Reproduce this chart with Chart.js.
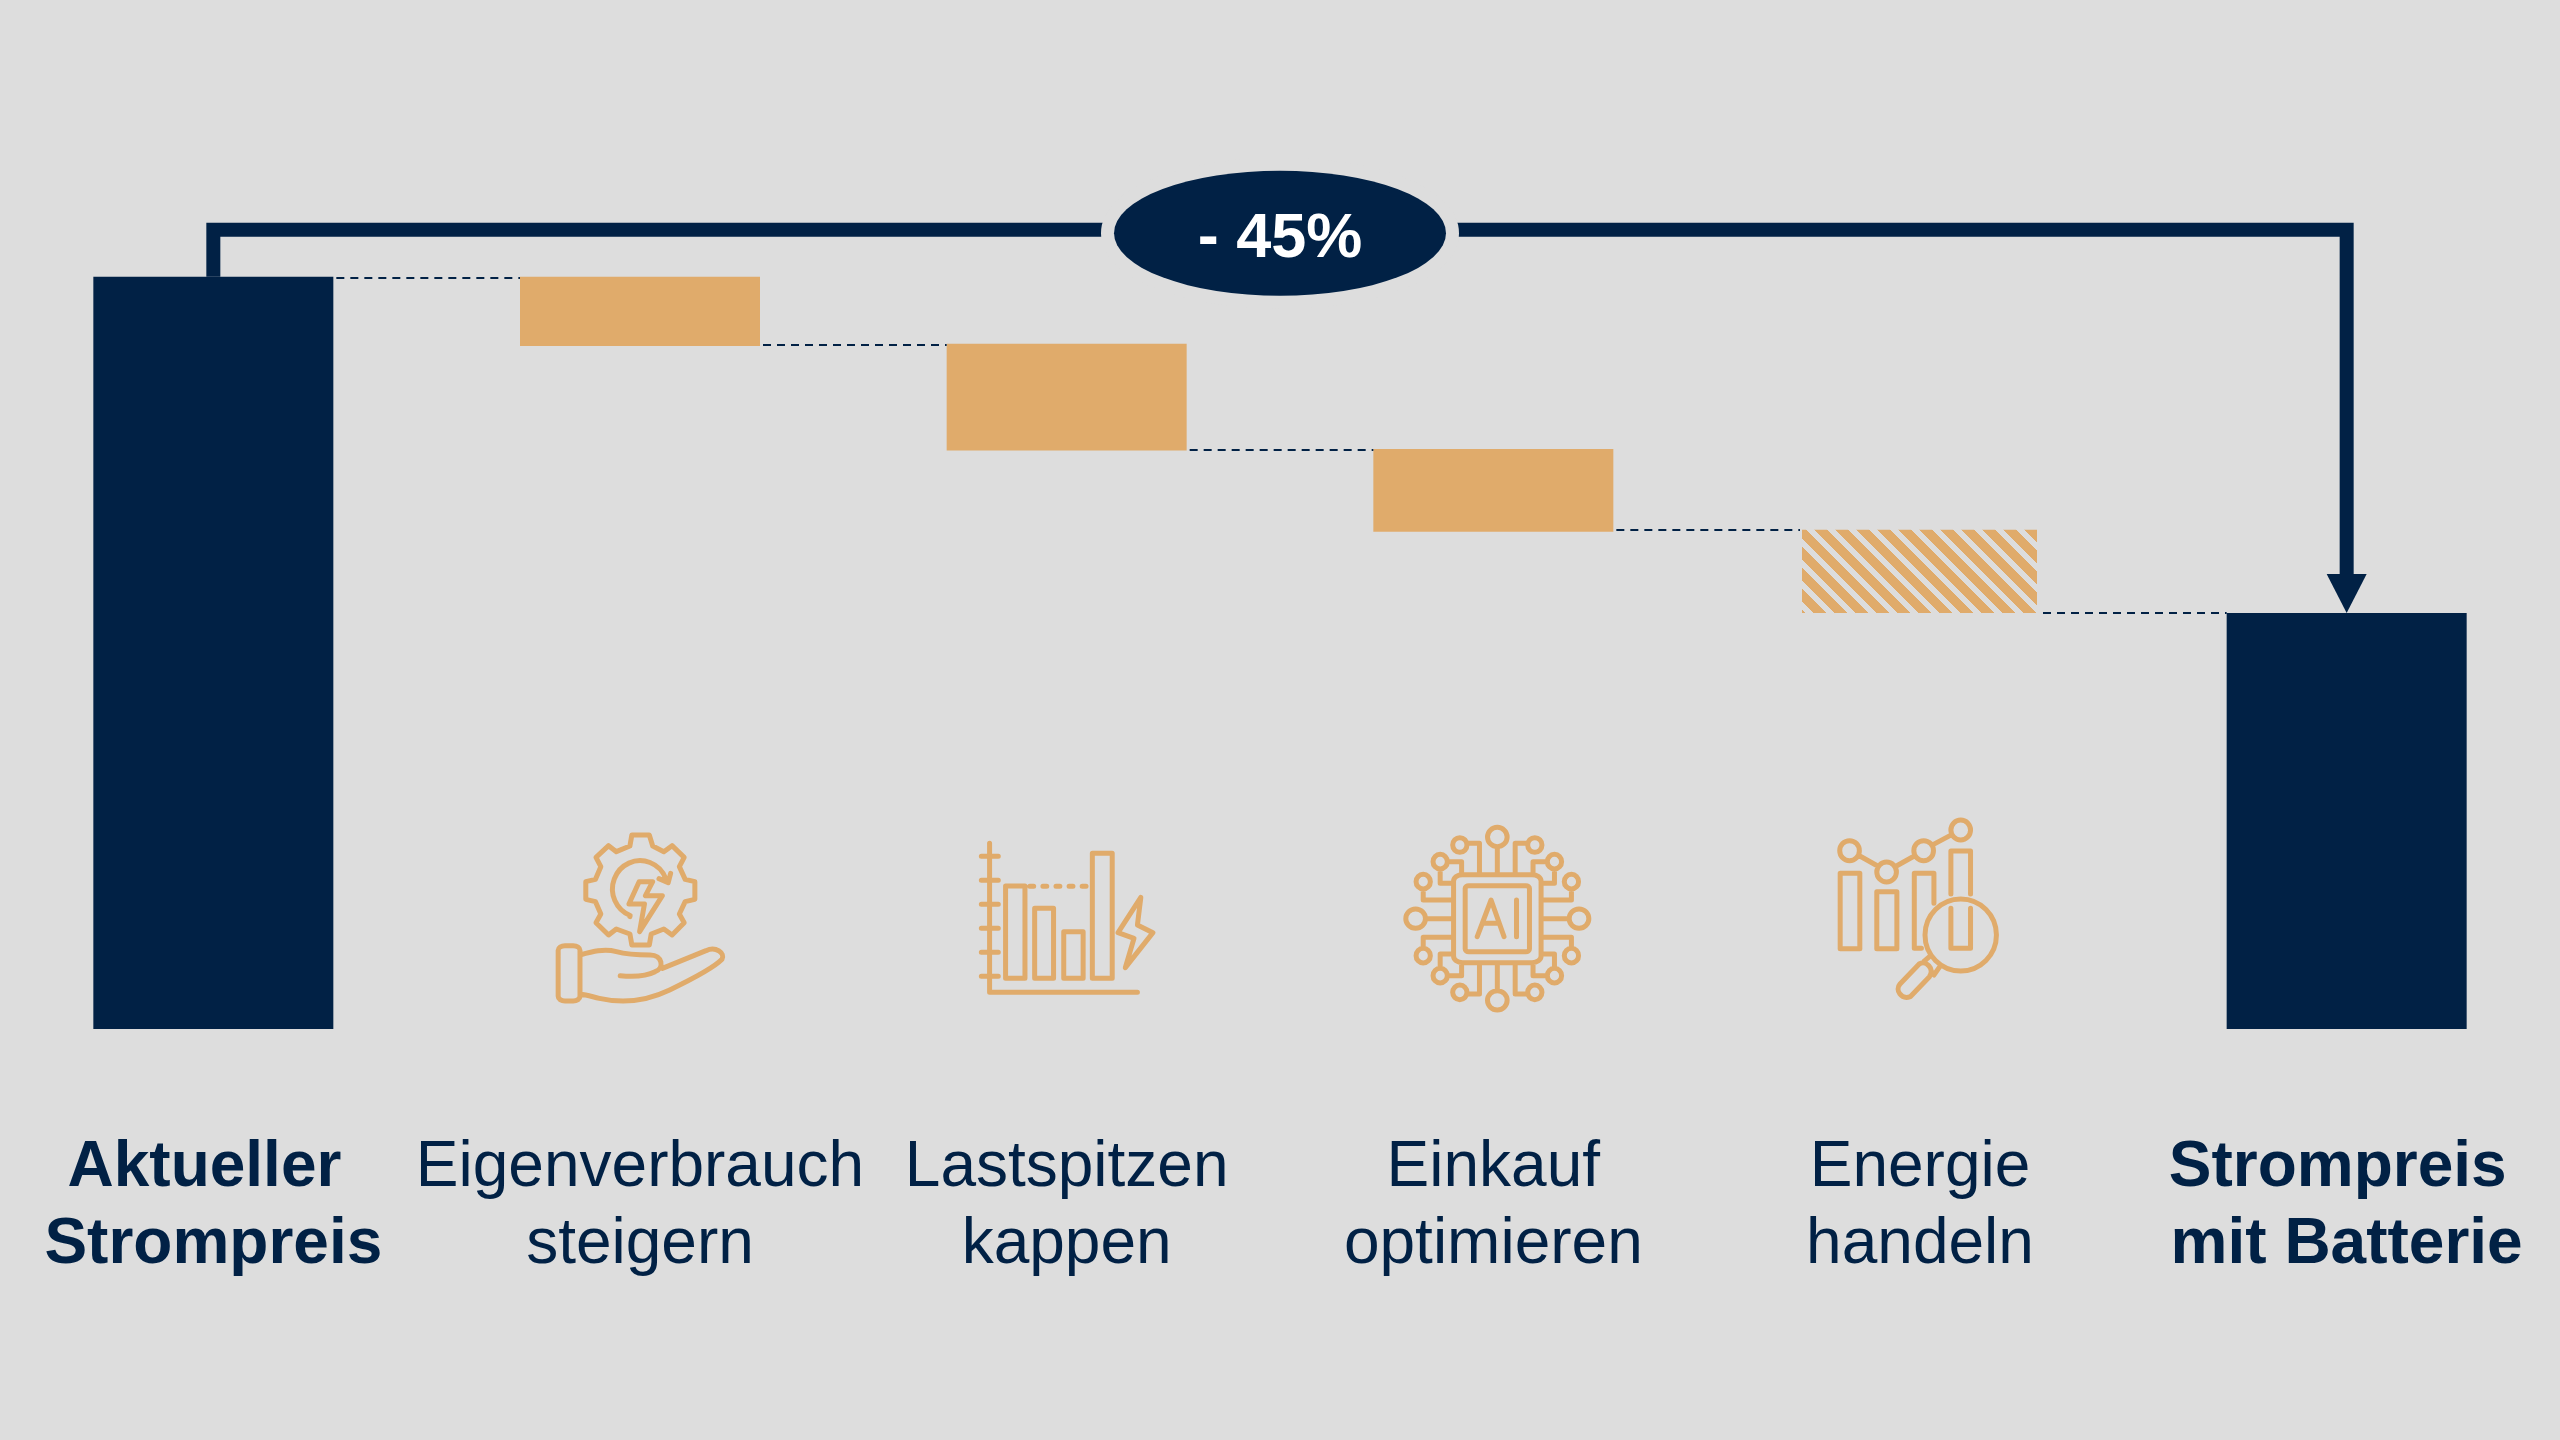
<!DOCTYPE html>
<html lang="de">
<head>
<meta charset="utf-8">
<title>Strompreis mit Batterie</title>
<script src="https://cdn.jsdelivr.net/npm/chart.js@4"></script>
<style>
  html, body { margin: 0; background: #dddddd; }
  canvas { display: block; }
</style>
</head>
<body>
<canvas id="waterfall" width="2560" height="1440"></canvas>
<script>
// Chart data (current price = 100)
const categories = [
  ["Aktueller ", "Strompreis"],
  ["Eigenverbrauch", "steigern"],
  ["Lastspitzen", "kappen"],
  ["Einkauf", "optimieren"],
  ["Energie", "handeln"],
  ["Strompreis ", "mit Batterie"],
];
const barBottoms = [0, 90.8, 76.9, 66.1, 55.3, 0];
const barTops = [100, 100, 91.1, 77.1, 66.4, 55.3];
const connectorLevels = [99.9, 91, 77, 66.3, 55.3];
const boldLabels = [true, false, false, false, false, true];
const savingLabel = "- 45%";
const bracketLevel = 106.25;
const badgeLevel = 105.8;
const yMax = 136.8;

const NAVY = "#012145";
const ORANGE = "#e0ab6b";
const BG = "#dddddd";
const FONT = '"Liberation Sans", Arial, sans-serif';

// The last saving step is not certain yet, so it gets a striped fill
function makeHatch() {
  const tile = document.createElement("canvas");
  tile.width = 21;
  tile.height = 21;
  const t = tile.getContext("2d");
  t.fillStyle = ORANGE;
  for (let y = 0; y < 21; y++) {
    for (let x = 0; x < 21; x++) {
      if (((x - y - 4) % 21 + 21) % 21 < 13) t.fillRect(x, y, 1, 1);
    }
  }
  return tile.getContext("2d").createPattern(tile, "repeat");
}

// Icons are traced in zoomed coordinates, then stroked with an even pen
function icon(ctx, ox, oy, sx, sy, draw) {
  ctx.save();
  ctx.translate(ox, oy);
  ctx.scale(1 / sx, 1 / sy);
  ctx.beginPath();
  draw(ctx);
  ctx.restore();
  ctx.stroke();
}

function poly(c, pts, close) {
  pts.forEach((p, i) => (i ? c.lineTo(p[0], p[1]) : c.moveTo(p[0], p[1])));
  if (close) c.closePath();
}

function ring(c, x, y, rx, ry) {
  c.moveTo(x + rx, y);
  c.ellipse(x, y, rx, ry, 0, 0, Math.PI * 2);
}

function gearHand(c) {
  poly(c, [[272,165],[308,165],[315,198],[338,215],[355,197],[380,232],[370,260],[382,298],[402,305],[402,358],
    [382,365],[370,402],[380,428],[355,465],[338,447],[312,462],[308,495],[272,495],[268,462],[240,447],
    [224,465],[198,428],[208,402],[197,365],[177,358],[177,305],[197,298],[208,260],[198,232],[224,197],
    [240,215],[268,198]], true);
  c.moveTo(268, 410);
  c.ellipse(289, 327, 57, 85, 0, (111 * Math.PI) / 180, (339 * Math.PI) / 180);
  poly(c, [[328,296],[347,308],[352,280]]);
  poly(c, [[287,305],[315,305],[300,347],[335,347],[288,455],[298,372],[266,372]], true);
  c.roundRect(120, 497, 45, 166, 14);
  c.moveTo(165, 525);
  c.bezierCurveTo(190, 515, 215, 505, 240, 515);
  c.bezierCurveTo(265, 525, 290, 525, 310, 525);
  c.bezierCurveTo(335, 525, 340, 565, 320, 575);
  c.bezierCurveTo(300, 590, 270, 590, 248, 587);
  c.moveTo(335, 565);
  c.lineTo(425, 512);
  c.bezierCurveTo(445, 497, 465, 520, 458, 538);
  c.bezierCurveTo(440, 565, 400, 595, 350, 630);
  c.bezierCurveTo(300, 665, 250, 670, 205, 655);
  c.bezierCurveTo(190, 650, 180, 645, 165, 642);
}

function barsBolt(c) {
  poly(c, [[1010,190],[1010,637],[1315,637]]);
  [229, 301, 373, 445, 517, 589].forEach((y) => poly(c, [[993,y],[1028,y]]));
  c.rect(1043, 318, 40, 277);
  c.rect(1103, 385, 39, 210);
  c.rect(1163, 455, 40, 140);
  c.rect(1222, 220, 41, 375);
  [1097, 1124, 1151, 1178, 1205].forEach((x) => poly(c, [[x - 4,319],[x + 4,319]]));
  poly(c, [[1322,352],[1315,435],[1347,458],[1290,563],[1308,475],[1275,458]], true);
}

function chipQuadrant(c) {
  ring(c, 330, 171, 22, 29);
  ring(c, 246, 195, 16, 22);
  ring(c, 202, 245, 16, 22);
  ring(c, 164, 305, 16, 22);
  ring(c, 147, 416, 22, 29);
  poly(c, [[330,200],[330,284]]);
  poly(c, [[262,190],[290,190],[290,280]]);
  poly(c, [[218,245],[250,245],[250,282]]);
  poly(c, [[202,267],[202,310],[232,310]]);
  poly(c, [[164,327],[164,360],[232,360]]);
  poly(c, [[169,416],[232,416]]);
}

function chipAi(c) {
  c.roundRect(232, 284, 196, 264, 20);
  c.roundRect(258, 317, 144, 198, 8);
  poly(c, [[285,470],[316,360],[345,470]]);
  poly(c, [[298,430],[333,430]]);
  poly(c, [[373,360],[373,470]]);
  [[1, 0, 1, 0], [-1, 660, 1, 0], [1, 0, -1, 832], [-1, 660, -1, 832]].forEach(([mx, tx, my, ty]) => {
    c.save();
    c.translate(tx, ty);
    c.scale(mx, my);
    chipQuadrant(c);
    c.restore();
  });
}

function chartLens(c) {
  c.rect(1098, 280, 44, 226);
  c.rect(1180, 335, 45, 171);
  poly(c, [[1280,505],[1264,505],[1264,280],[1308,280],[1308,370]]);
  poly(c, [[1346,342],[1346,213],[1390,213],[1390,342]]);
  poly(c, [[1346,385],[1346,505],[1390,505],[1390,385]]);
  ring(c, 1119, 212, 22, 30);
  ring(c, 1202, 276, 22, 30);
  ring(c, 1285, 212, 22, 30);
  ring(c, 1368, 150, 22, 30);
  poly(c, [[1142,228],[1182,258]]);
  poly(c, [[1224,258],[1264,228]]);
  poly(c, [[1306,194],[1348,164]]);
  ring(c, 1368, 465, 80, 108);
  poly(c, [[1298,530],[1285,545]]);
  poly(c, [[1320,562],[1308,585]]);
  c.moveTo(1275, 552);
  c.lineTo(1232, 612);
  c.bezierCurveTo(1220, 630, 1235, 660, 1255, 650);
  c.lineTo(1298, 590);
  c.bezierCurveTo(1310, 565, 1290, 540, 1275, 552);
}

// Leader lines, the -45% bracket and the four icons
const overlayPlugin = {
  id: "overlay",
  afterDatasetsDraw(chart) {
    const { ctx, scales } = chart;
    const x = scales.x;
    const y = scales.y;
    const halfBar = (x.getPixelForValue(1) - x.getPixelForValue(0)) * 0.5625 / 2;
    const firstX = x.getPixelForValue(0);
    const lastX = x.getPixelForValue(categories.length - 1);

    ctx.save();
    ctx.strokeStyle = NAVY;
    ctx.lineWidth = 2;
    ctx.setLineDash([8, 6]);
    connectorLevels.forEach((level, i) => {
      const lineY = Math.round(y.getPixelForValue(level));
      ctx.beginPath();
      ctx.moveTo(x.getPixelForValue(i) + halfBar + 3, lineY);
      ctx.lineTo(x.getPixelForValue(i + 1) - halfBar, lineY);
      ctx.stroke();
    });
    ctx.setLineDash([]);

    const tipY = y.getPixelForValue(barTops[barTops.length - 1]);
    ctx.lineWidth = 14;
    ctx.lineJoin = "miter";
    ctx.beginPath();
    ctx.moveTo(firstX, y.getPixelForValue(barTops[0]));
    ctx.lineTo(firstX, y.getPixelForValue(bracketLevel));
    ctx.lineTo(lastX, y.getPixelForValue(bracketLevel));
    ctx.lineTo(lastX, tipY - 39);
    ctx.stroke();

    ctx.fillStyle = NAVY;
    ctx.beginPath();
    ctx.moveTo(lastX - 20, tipY - 39);
    ctx.lineTo(lastX + 20, tipY - 39);
    ctx.lineTo(lastX, tipY);
    ctx.closePath();
    ctx.fill();

    const badgeX = x.getPixelForValue(2.5);
    const badgeY = y.getPixelForValue(badgeLevel);
    ctx.beginPath();
    ctx.ellipse(badgeX, badgeY, 166, 62.5, 0, 0, Math.PI * 2);
    ctx.strokeStyle = BG;
    ctx.lineWidth = 26;
    ctx.stroke();
    ctx.fill();

    ctx.fillStyle = "#ffffff";
    ctx.font = "bold 63px " + FONT;
    ctx.textAlign = "center";
    ctx.textBaseline = "alphabetic";
    ctx.fillText(savingLabel, badgeX, badgeY + 24);

    ctx.strokeStyle = ORANGE;
    ctx.lineWidth = 5;
    ctx.lineCap = "round";
    ctx.lineJoin = "round";
    icon(ctx, 500, 780, 2.063, 3, gearHand);
    icon(ctx, 500, 780, 2.063, 3, barsBolt);
    icon(ctx, 1350, 780, 2.24, 3, chipAi);
    icon(ctx, 1350, 780, 2.24, 3, chartLens);
    ctx.restore();
  },
};

Chart.defaults.font.family = FONT;

new Chart(document.getElementById("waterfall"), {
  type: "bar",
  data: {
    labels: categories,
    datasets: [
      {
        data: barBottoms.map((low, i) => [low, barTops[i]]),
        backgroundColor: [NAVY, ORANGE, ORANGE, ORANGE, makeHatch(), NAVY],
        borderColor: "transparent",
        borderWidth: [0, 0, 0, 0, { left: 2, right: 3 }, 0],
        borderSkipped: false,
        barPercentage: 0.5625,
        categoryPercentage: 1,
      },
    ],
  },
  options: {
    responsive: false,
    animation: false,
    devicePixelRatio: 1,
    layout: { autoPadding: false, padding: 0 },
    plugins: {
      legend: { display: false },
      title: { display: false },
      tooltip: { enabled: false },
    },
    scales: {
      x: {
        grid: { display: false },
        border: { display: false },
        afterFit(scale) {
          scale.height = 411;
          scale.paddingLeft = 0;
          scale.paddingRight = 0;
        },
        ticks: {
          autoSkip: false,
          maxRotation: 0,
          minRotation: 0,
          padding: 93,
          color: NAVY,
          font: (c) => ({
            size: 64,
            lineHeight: 1.2,
            family: FONT,
            weight: boldLabels[c.index] ? "bold" : "normal",
          }),
        },
      },
      y: { display: false, min: 0, max: yMax },
    },
  },
  plugins: [overlayPlugin],
});
</script>
</body>
</html>
